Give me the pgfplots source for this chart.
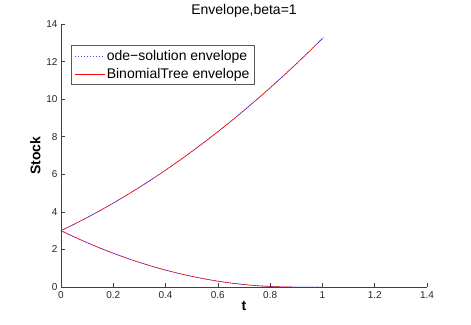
\documentclass[border=0pt]{standalone}
\usepackage{fontspec}
\setmainfont{Liberation Sans}
\usepackage{pgfplots}
\pgfplotsset{compat=1.18}

\begin{document}
\begin{tikzpicture}

\begin{axis}[
scale only axis,
width=366pt, height=263pt,
xmin=0, xmax=1.4,
ymin=0, ymax=14,
xtick={0,0.2,0.4,0.6,0.8,1,1.2,1.4},
ytick={0,2,4,6,8,10,12,14},
axis x line*=bottom,
axis y line*=left,
axis line style={black!75, line width=0.5pt},
tick style={black!75, line width=0.5pt},
tick align=inside,
major tick length=4pt,
/pgf/number format/assume math mode=true,
ticklabel style={font=\fontsize{10}{12}\selectfont, text=black!85},
xticklabel style={yshift=-1pt},
title={Envelope,beta=1},
title style={font=\fontsize{14}{16}\selectfont, yshift=-3pt},
xlabel={\textbf{t}},
ylabel={\textbf{Stock}},
xlabel style={font=\fontsize{14}{16}\selectfont, yshift=4pt},
ylabel style={font=\fontsize{14}{16}\selectfont, yshift=-1pt},
legend cell align=left,
legend style={at={(0.027,0.92)}, anchor=north west,
  draw=black!65, line width=0.8pt, font=\fontsize{14}{16}\selectfont,
  inner xsep=3pt, inner ysep=3pt, row sep=2pt},
legend image code/.code={\draw[#1, line width=0.5pt] (0pt,0pt) -- (30pt,0pt);},
]
\addlegendimage{blue!70, dash pattern=on 1pt off 2pt}
\addlegendentry{ode−solution envelope}
\addlegendimage{red}
\addlegendentry{BinomialTree envelope}

% binomial tree envelope, upper and lower
\addplot[red, line width=0.6pt, forget plot] coordinates {
(0,3.000) (0.05,3.339) (0.1,3.696) (0.15,4.072) (0.2,4.465) (0.25,4.877)
(0.3,5.307) (0.35,5.755) (0.4,6.220) (0.45,6.705) (0.5,7.207) (0.55,7.728)
(0.6,8.266) (0.65,8.823) (0.7,9.398) (0.75,9.991) (0.8,10.602) (0.85,11.232)
(0.9,11.879) (0.95,12.545) (1.0,13.229)};
\addplot[red, line width=0.6pt, forget plot] coordinates {
(0,3.000) (0.05,2.670) (0.1,2.360) (0.15,2.068) (0.2,1.796) (0.25,1.543)
(0.3,1.309) (0.35,1.094) (0.4,0.899) (0.45,0.723) (0.5,0.566) (0.55,0.428)
(0.6,0.309) (0.65,0.210) (0.7,0.130) (0.75,0.069) (0.8,0.027) (0.85,0.004)
(0.884,0)};

% ode solution envelope, upper and lower
\addplot[blue!80, line width=0.6pt, dash pattern=on 1pt off 1.5pt, forget plot] coordinates {
(0,3.000) (0.05,3.339) (0.1,3.696) (0.15,4.072) (0.2,4.465) (0.25,4.877)
(0.3,5.307) (0.35,5.755) (0.4,6.220) (0.45,6.705) (0.5,7.207) (0.55,7.728)
(0.6,8.266) (0.65,8.823) (0.7,9.398) (0.75,9.991) (0.8,10.602) (0.85,11.232)
(0.9,11.879) (0.95,12.545) (1.0,13.229) (1.005,13.30)};
\addplot[blue!80, line width=0.6pt, dash pattern=on 1pt off 1.5pt, forget plot] coordinates {
(0,3.000) (0.05,2.670) (0.1,2.360) (0.15,2.068) (0.2,1.796) (0.25,1.543)
(0.3,1.309) (0.35,1.094) (0.4,0.899) (0.45,0.723) (0.5,0.566) (0.55,0.428)
(0.6,0.309) (0.65,0.210) (0.7,0.130) (0.75,0.069) (0.8,0.027) (0.85,0.004)
(0.884,0) (1.0,0)};
\end{axis}

\path (current axis.south west) ++(-61pt,-37pt) rectangle ++(471pt,324pt);
\end{tikzpicture}
\end{document}
